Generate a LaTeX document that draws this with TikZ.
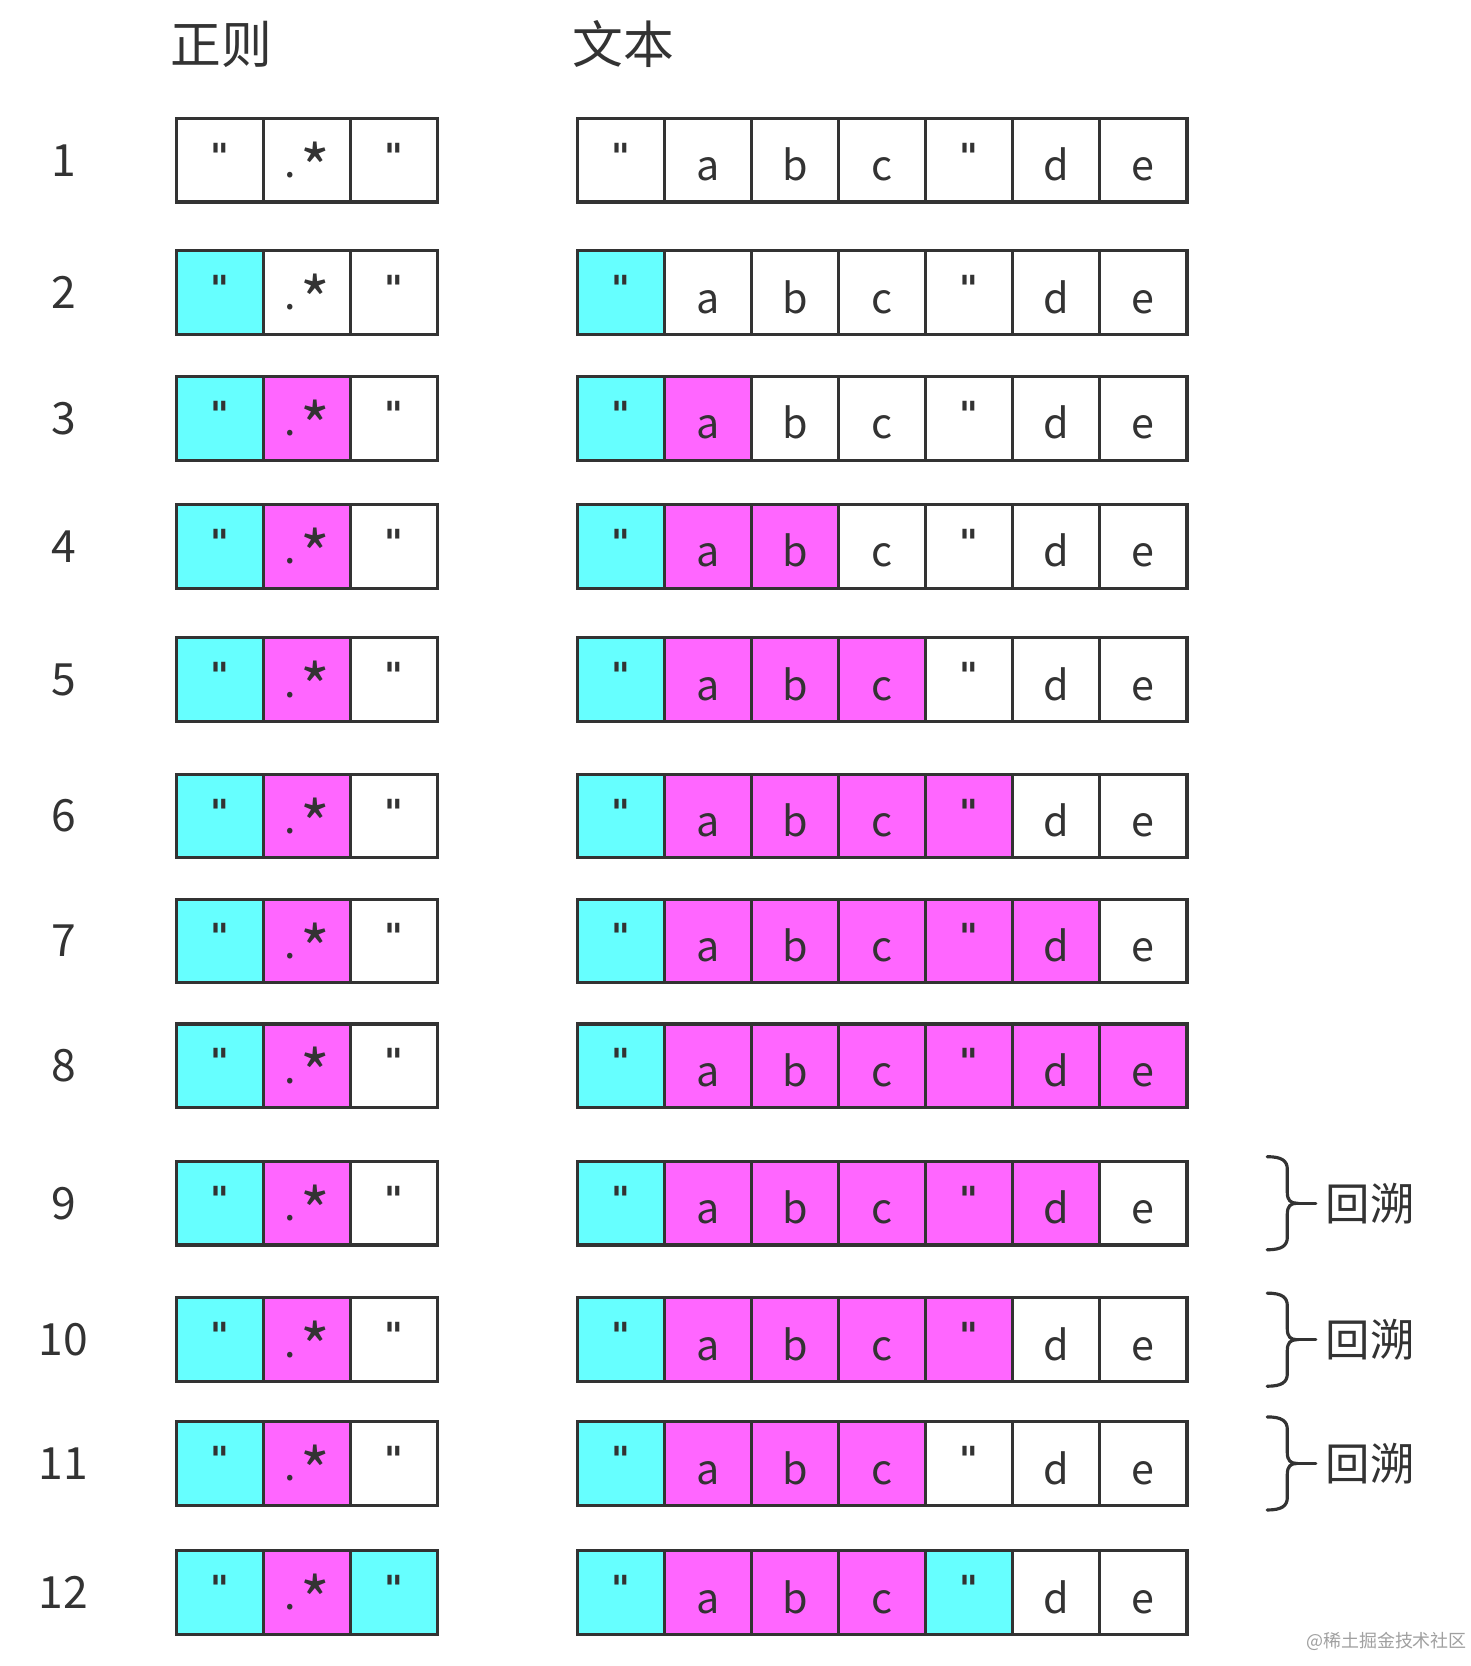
\documentclass[tikz,border=0pt]{standalone}
\usepackage{fontspec}
\newfontfamily\cjk{Noto Sans CJK SC}
\newfontfamily\dvs{DejaVu Sans}
\definecolor{cy}{HTML}{66FFFF}
\definecolor{mg}{HTML}{FF66FF}
\definecolor{ink}{HTML}{333333}
\definecolor{wm}{HTML}{A0A0A0}
\newcommand\qt{\raisebox{11pt}{\dvs\bfseries\fontsize{34}{34}\selectfont\symbol{34}}}
\newcommand\dst{\raisebox{3pt}{.}\kern4pt\raisebox{-11pt}{\fontsize{60}{60}\selectfont *}}
\newcommand\rrow[5]{%
  \node[cellbox,fill=#3] (re#1a) at (167,#2) {\qt};
  \node[cellbox,fill=#4] (re#1b) at (249.3,#2) {\dst};
  \node[cellbox,fill=#5] (re#1c) at (331.6,#2) {\qt};
}
\newcommand\trow[9]{%
  \node[cellbox,fill=#3] (tx#1a) at (546,#2) {\qt};
  \node[cellbox,fill=#4] (tx#1b) at (628.3,#2) {a};
  \node[cellbox,fill=#5] (tx#1c) at (710.6,#2) {b};
  \node[cellbox,fill=#6] (tx#1d) at (792.9,#2) {c};
  \node[cellbox,fill=#7] (tx#1e) at (875.2,#2) {\qt};
  \node[cellbox,fill=#8] (tx#1f) at (957.5,#2) {d};
  \node[cellbox,fill=#9] (tx#1g) at (1039.8,#2) {e};
}
\begin{document}
\begin{tikzpicture}[x=1pt,y=-1pt,
  cellbox/.style={draw=ink, line width=3pt, minimum width=82.3pt, minimum height=79pt,
    inner sep=0pt, outer sep=0pt, text height=59pt, text depth=20pt,
    font=\cjk\fontsize{39}{39}\selectfont, text=ink, anchor=north west},
  rowlab/.style={font=\cjk\fontsize{42}{42}\selectfont, text=ink, inner sep=0pt},
  head/.style={font=\cjk\fontsize{48}{48}\selectfont, text=ink, inner sep=0pt, anchor=west},
  bt/.style={font=\cjk\fontsize{42}{42}\selectfont, text=ink, inner sep=0pt, anchor=west},
  bracestyle/.style={draw=ink, line width=3pt, line cap=round}]
\useasboundingbox (0,0) rectangle (1390,1575);
\fill[white] (0,0) rectangle (1390,1575);
% headers
\node[head] (hre) at (161,42) {正则};
\node[head] (htx) at (541,42) {文本};
% row labels
\foreach \n/\t in {1/112,2/237,3/356,4/477,5/603,6/732,7/850,8/968,9/1098,10/1227,11/1344,12/1466}
  \node[rowlab] (lab\n) at (60,\t+39.5) {\n};
% rows
\rrow{1}{112}{white}{white}{white}
\trow{1}{112}{white}{white}{white}{white}{white}{white}{white}
\rrow{2}{237}{cy}{white}{white}
\trow{2}{237}{cy}{white}{white}{white}{white}{white}{white}
\rrow{3}{356}{cy}{mg}{white}
\trow{3}{356}{cy}{mg}{white}{white}{white}{white}{white}
\rrow{4}{477}{cy}{mg}{white}
\trow{4}{477}{cy}{mg}{mg}{white}{white}{white}{white}
\rrow{5}{603}{cy}{mg}{white}
\trow{5}{603}{cy}{mg}{mg}{mg}{white}{white}{white}
\rrow{6}{732}{cy}{mg}{white}
\trow{6}{732}{cy}{mg}{mg}{mg}{mg}{white}{white}
\rrow{7}{850}{cy}{mg}{white}
\trow{7}{850}{cy}{mg}{mg}{mg}{mg}{mg}{white}
\rrow{8}{968}{cy}{mg}{white}
\trow{8}{968}{cy}{mg}{mg}{mg}{mg}{mg}{mg}
\rrow{9}{1098}{cy}{mg}{white}
\trow{9}{1098}{cy}{mg}{mg}{mg}{mg}{mg}{white}
\rrow{10}{1227}{cy}{mg}{white}
\trow{10}{1227}{cy}{mg}{mg}{mg}{mg}{white}{white}
\rrow{11}{1344}{cy}{mg}{white}
\trow{11}{1344}{cy}{mg}{mg}{mg}{white}{white}{white}
\rrow{12}{1466}{cy}{mg}{cy}
\trow{12}{1466}{cy}{mg}{mg}{mg}{cy}{white}{white}
% braces
\foreach \c/\n in {1137.5/9,1266.5/10,1383.5/11}{
  \draw[bracestyle] (1198,\c-44) .. controls (1212,\c-44) and (1217,\c-40) .. (1217,\c-32)
    -- (1217,\c-10) .. controls (1217,\c-3) and (1220,\c) .. (1226,\c)
    .. controls (1220,\c) and (1217,\c+3) .. (1217,\c+10)
    -- (1217,\c+32) .. controls (1217,\c+40) and (1212,\c+44) .. (1198,\c+44);
  \coordinate (tip\n) at (1226,\c);
  \coordinate (tick\n) at (1244,\c);
  \node[bt] (bt\n) at (1253,\c) {回溯};
  \draw[bracestyle] (tip\n) -- (tick\n);
}
% watermark
\node[font=\cjk\fontsize{17}{17}\selectfont, text=wm, anchor=east, inner sep=0pt] (wmk) at (1387,1552) {@稀土掘金技术社区};
\end{tikzpicture}
\end{document}
